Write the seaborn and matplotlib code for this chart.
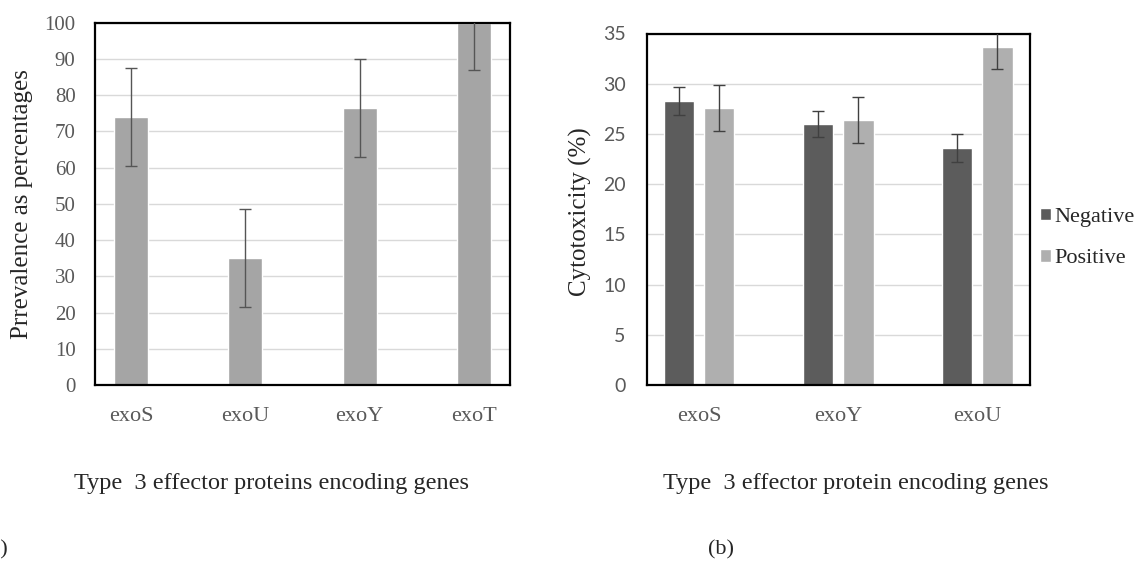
import numpy as np
import pandas as pd
import matplotlib
matplotlib.use("Agg")
import matplotlib.pyplot as plt
import seaborn as sns

# painel (a): prevalencia dos genes
genes_a = ["exoS", "exoU", "exoY", "exoT"]
prev_a = [74, 35, 76.5, 100]
err_a = [13.5, 13.5, 13.5, 13]

# painel (b): citotoxicidade por status do gene
genes_b = ["exoS", "exoY", "exoU"]
grupos = ["Negative", "Positive"]
cito_neg = [28.3, 26.0, 23.6]
cito_pos = [27.6, 26.4, 33.7]
err_neg = [1.4, 1.3, 1.4]
err_pos = [2.3, 2.3, 2.2]

sns.set_theme(style="white")
plt.rcParams['font.family'] = ['Liberation Serif', 'DejaVu Serif']

fig = plt.figure(figsize=(11.43, 5.7), dpi=100)
ax1 = fig.add_axes([95/1143, 1-385/570, 415/1143, (385-22.7)/570])
ax2 = fig.add_axes([646.5/1143, 1-385/570, 383.5/1143, (385-33.5)/570])

cor_tick = "#595959"
cor_txt = "#262626"
cor_err = "#555555"

# ---- (a)
df_a = pd.DataFrame({"gene": genes_a, "prev": prev_a})
sns.barplot(data=df_a, x="gene", y="prev", color="#a5a5a5", saturation=1,
            width=0.3, errorbar=None, ax=ax1, zorder=2)
for bar, e in zip(ax1.containers[0], err_a):
    ax1.errorbar(bar.get_x() + bar.get_width()/2, bar.get_height(), yerr=e,
                 fmt="none", ecolor=cor_err, elinewidth=1, capsize=4, capthick=1, zorder=3)
ax1.set_ylim(0, 100)
ax1.set_yticks(np.arange(0, 101, 10))
ax1.grid(axis="y", color="#d9d9d9", lw=1, zorder=0)
ax1.set_axisbelow(True)

# ---- (b)
df_b = pd.DataFrame({
    "gene": genes_b * 2,
    "grupo": [grupos[0]] * 3 + [grupos[1]] * 3,
    "cito": cito_neg + cito_pos,
})
sns.barplot(data=df_b, x="gene", y="cito", hue="grupo", hue_order=grupos,
            palette=["#5c5c5c", "#afafaf"], saturation=1, width=0.58, gap=0.25,
            errorbar=None, ax=ax2, zorder=2)
for cont, errs in zip(ax2.containers, [err_neg, err_pos]):
    for bar, e in zip(cont, errs):
        ax2.errorbar(bar.get_x() + bar.get_width()/2, bar.get_height(), yerr=e,
                     fmt="none", ecolor="#404040", elinewidth=1, capsize=4, capthick=1, zorder=3)
ax2.set_ylim(0, 35)
ax2.set_yticks(np.arange(0, 36, 5))
ax2.grid(axis="y", color="#d9d9d9", lw=1, zorder=0)
ax2.set_axisbelow(True)

for ax in (ax1, ax2):
    ax.set_xlabel("")
    ax.set_ylabel("")
    for s in ax.spines.values():
        s.set_color("black")
        s.set_linewidth(1.6)
    ax.tick_params(axis="both", length=0, colors=cor_tick)
    ax.tick_params(axis="x", pad=16, labelsize=16)

ax1.tick_params(axis="y", pad=14, labelsize=15)
ax2.tick_params(axis="y", pad=15, labelsize=14)
for t in ax2.get_yticklabels():
    t.set_fontfamily("Lato")

leg = ax2.legend(loc="center left", bbox_to_anchor=(1040/1143, 1-238/570),
                 bbox_transform=fig.transFigure, frameon=False, fontsize=16,
                 handlelength=0.5, handleheight=0.5, handletextpad=0.15,
                 labelspacing=1.0, borderaxespad=0, borderpad=0)
for t in leg.get_texts():
    t.set_color(cor_txt)

fig.text(22/1143, 1-204/570, "Prrevalence as percentages", rotation=90,
         ha="center", va="center", fontsize=18, color=cor_txt)
fig.text(580/1143, 1-212/570, "Cytotoxicity (%)", rotation=90,
         ha="center", va="center", fontsize=18, color=cor_txt)
fig.text(272/1143, 1-483/570, "Type  3 effector proteins encoding genes",
         ha="center", va="center", fontsize=17.5, color=cor_txt)
fig.text(856/1143, 1-483/570, "Type  3 effector protein encoding genes",
         ha="center", va="center", fontsize=17.5, color=cor_txt)
# o rotulo (a) aparece cortado na borda esquerda da figura original
fig.text(-17/1143, 1-550/570, "(a)", ha="left", va="center", fontsize=16, color=cor_txt)
fig.text(721/1143, 1-550/570, "(b)", ha="center", va="center", fontsize=16, color=cor_txt)

fig.savefig("out.png", dpi=100)
